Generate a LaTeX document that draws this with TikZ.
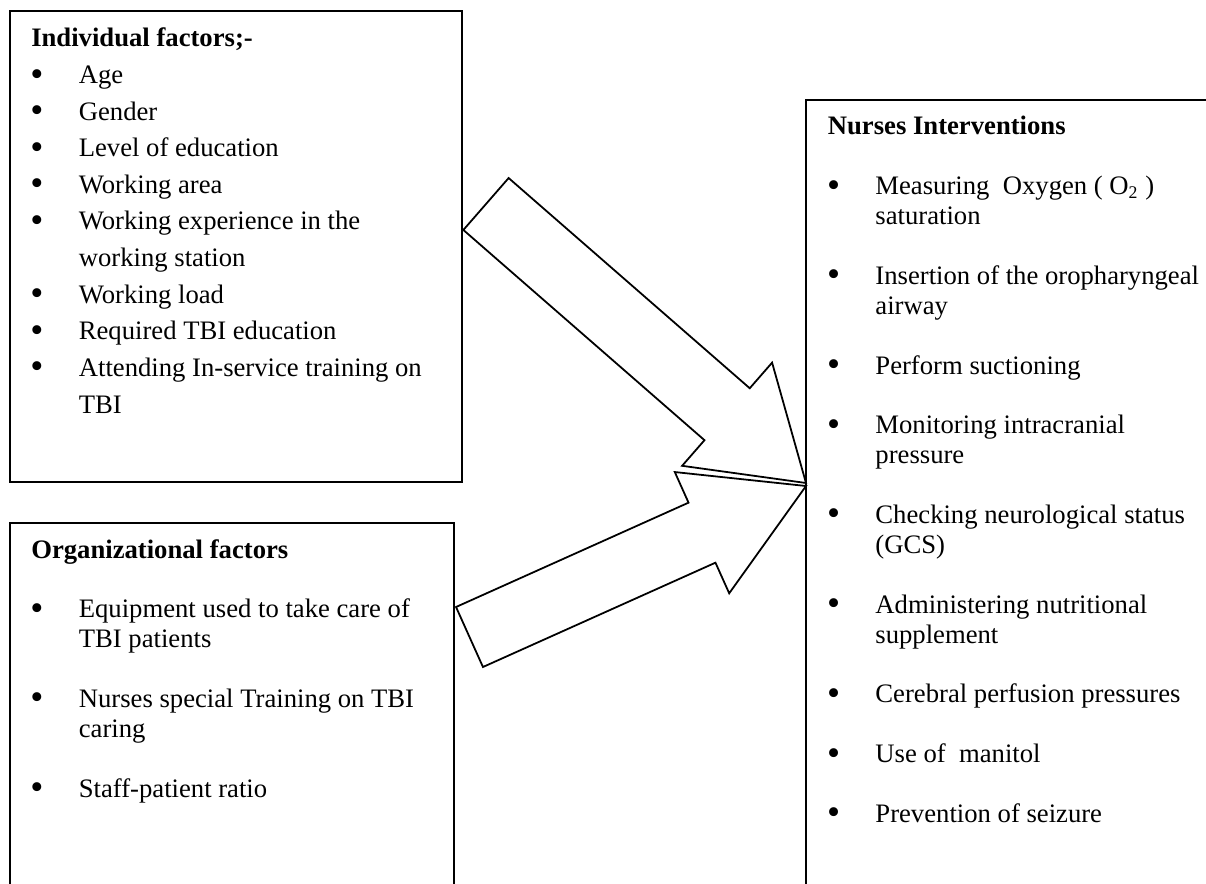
\documentclass[tikz,border=0pt]{standalone}
\usepackage{fontspec}
\setmainfont{Liberation Serif}
\usetikzlibrary{calc,positioning}

\newcommand{\bul}{\makebox[21.4pt][l]{\hspace{-0.4pt}\raisebox{-1.1pt}{\scalebox{1.4}{\textbullet}}}}

\begin{document}
\begin{tikzpicture}[
  x=0.45pt, y=-0.45pt,
  line width=0.8pt,
  mybox/.style n args={2}{
    draw,
    rectangle,
    inner sep=0pt,
    outer sep=0pt,
    anchor=north west,
    minimum width=#1,
    minimum height=#2
    },
  mylist/.style={
    anchor=base west,
    inner sep=0pt,
    font=\fontsize{12pt}{#1}\selectfont
    },
  myarrow/.style={
    draw,
    line width=0.8pt,
    line join=miter
  }
]

\useasboundingbox (0,0) rectangle (1206,884);
\clip (0,0) rectangle (1206,884);

\node[mybox={203.4pt}{212pt}] (indiv) at (10,11) {};
\node[mybox={199.8pt}{180pt}] (organ) at (10,523) {};
\node[mybox={200pt}{370pt}] (interv) at (806,100) {};

\node[mylist=16.47pt] (indivlist) at (30.4,47)
  {\begin{tabular}[t]{@{}l@{}l@{}}
  \multicolumn{2}{@{}l@{}}{\textbf{Individual factors;-}}\\
  \bul & Age\\
  \bul & Gender\\
  \bul & Level of education\\
  \bul & Working area\\
  \bul & Working experience in the\\
       & working station\\
  \bul & Working load\\
  \bul & Required TBI education\\
  \bul & Attending In-service training on\\
       & TBI
  \end{tabular}};

\node[mylist=13.45pt] (organlist) at (30.4,558)
  {\begin{tabular}[t]{@{}l@{}l@{}}
  \multicolumn{2}{@{}l@{}}{\textbf{Organizational factors}}\\
  & \\
  \bul & Equipment used to take care of\\
       & TBI patients\\
  & \\
  \bul & Nurses special Training on TBI\\
       & caring\\
  & \\
  \bul & Staff-patient ratio
  \end{tabular}};

\node[mylist=13.45pt] (intervlist) at (827,135)
  {\begin{tabular}[t]{@{}l@{}l@{}}
  \multicolumn{2}{@{}l@{}}{\textbf{Nurses Interventions}}\\
  & \\
  \bul & Measuring\ \ Oxygen ( O\textsubscript{2} )\\
       & saturation\\
  & \\
  \bul & Insertion of the oropharyngeal\\
       & airway\\
  & \\
  \bul & Perform suctioning\\
  & \\
  \bul & Monitoring intracranial\\
       & pressure\\
  & \\
  \bul & Checking neurological status\\
       & (GCS)\\
  & \\
  \bul & Administering nutritional\\
       & supplement\\
  & \\
  \bul & Cerebral perfusion pressures\\
  & \\
  \bul & Use of\ \ manitol\\
  & \\
  \bul & Prevention of seizure
  \end{tabular}};

% block arrows: tail, tip
\coordinate (t1) at (486,204);
\coordinate (p1) at (806,483);
\coordinate (t2) at (469.5,637);
\coordinate (p2) at (806,486);

\foreach \ta/\tp/\sw/\hw/\hl in {t1/p1/15.5pt/30.8pt/47.1pt, t2/p2/14.8pt/29.9pt/51.3pt}{
  \coordinate (hb) at ($(\tp)!\hl!(\ta)$);
  \draw[myarrow] ($(\ta)!\sw!90:(\tp)$) -- ($(hb)!\sw!90:(\tp)$)
    -- ($(hb)!\hw!90:(\tp)$) -- (\tp) -- ($(hb)!\hw!-90:(\tp)$)
    -- ($(hb)!\sw!-90:(\tp)$) -- ($(\ta)!\sw!-90:(\tp)$) -- cycle;
}

\end{tikzpicture}
\end{document}
